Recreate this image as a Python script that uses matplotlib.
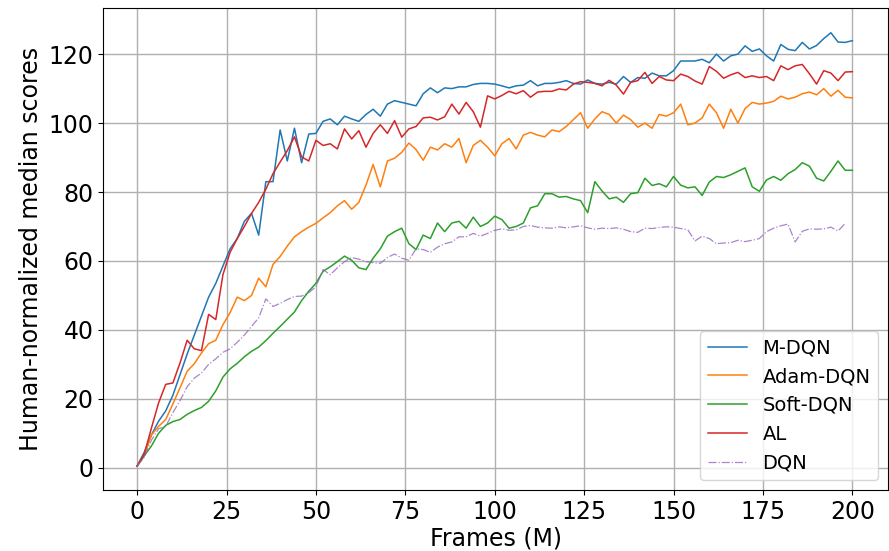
import matplotlib
matplotlib.use("Agg")
import matplotlib.pyplot as plt

# frames (M), one reading every 2M
frames = list(range(0, 201, 2))

m_dqn = [0.5, 4.5, 9.5, 13.5, 16.5, 21, 27, 33, 38.5, 44,
         49.5, 53.5, 58.5, 63.5, 66.5, 71.5, 73.8, 67.5, 83, 83,
         98, 89, 98.5, 88.5, 96.8, 97, 100.5, 101.2, 99.5, 102,
         101.2, 100.5, 102.5, 104, 102, 105.5, 106.5, 106, 105.5, 105,
         108.5, 110.2, 108.8, 110.2, 110, 110.5, 110.5, 111.2, 111.5, 111.5,
         111.3, 110.8, 110.2, 110.8, 111, 112.3, 110.8, 111.5, 111.5, 111.8,
         112.3, 111.5, 111.3, 112.5, 111.5, 111.3, 111.8, 111.3, 113.5, 111.8,
         113.2, 113, 114.5, 113.7, 113.7, 115.2, 118, 118, 118, 118.5,
         117.5, 120, 118, 119.5, 120, 122.4, 120.8, 121.5, 119.5, 118,
         122.8, 121.4, 121, 123.4, 121.5, 122.5, 124.5, 126.2, 123.5, 123.4,
         123.9]

adam_dqn = [0.5, 3.5, 9.5, 12, 14, 18.5, 23.2, 28, 30.2, 33.3,
            36, 37, 41.5, 45, 49.5, 48.5, 50, 55, 52.5, 59,
            61.3, 64.3, 67, 68.5, 69.8, 70.9, 72.5, 74, 76, 77.5,
            75, 77, 82, 88, 81.5, 89, 89.8, 91.5, 94.2, 92.3,
            89.2, 93, 92.2, 94, 93, 95.5, 88.5, 93.5, 95, 93,
            90.5, 94, 95.5, 92.5, 96.5, 97.3, 96.5, 96, 98, 97.5,
            99, 101, 103, 98.5, 101.2, 103.3, 102.5, 100, 102.3, 101,
            98.8, 100, 98.5, 102.5, 102, 103, 105.5, 99.5, 100, 101.5,
            105.5, 103, 98.5, 104, 100, 104.2, 106, 105.5, 105.8, 106.3,
            107.8, 107, 107.5, 108.5, 109, 108.2, 110, 107.8, 109.5, 107.5,
            107.3]

soft_dqn = [0.5, 3.5, 6.3, 10, 12.3, 13.4, 14, 15.5, 16.6, 17.5,
            19.3, 22.3, 26.3, 28.7, 30.3, 32.2, 33.8, 35, 36.9, 39,
            41, 43.1, 45.2, 48.5, 51.2, 53.5, 57, 58.3, 59.8, 61.4,
            60.2, 58, 57.5, 60.8, 63.5, 67.2, 68.5, 69.5, 65, 63.3,
            67.5, 66.5, 71, 68.5, 71, 71.5, 69.5, 72.7, 70, 71,
            73, 72, 69.5, 70, 71, 75.4, 76, 79.5, 79.5, 78.5,
            78.7, 78, 77.5, 74, 83, 80.3, 78, 78.5, 77, 79.5,
            79.8, 84, 81.9, 82.4, 81.5, 84.5, 82, 81.2, 81.5, 79,
            82.9, 84.5, 84.2, 85, 86, 87, 81.5, 80.2, 83.5, 84.5,
            83.4, 85.3, 86.5, 88.5, 87.5, 84, 83.2, 86, 89, 86.3,
            86.3]

al = [0.5, 4, 11.5, 18.8, 24.2, 24.6, 30.4, 37, 34.5, 34,
      44.5, 43, 56, 62.5, 66.5, 70, 73.8, 77, 80.8, 85.3,
      88.7, 92, 96, 90.2, 89, 95, 93.5, 94, 92.5, 98.3,
      95.4, 97.8, 93, 97, 99.5, 97, 100.7, 95.9, 98.3, 99,
      101.5, 101.7, 100.9, 101.8, 105.5, 102.6, 106, 103.3, 98.8, 107.9,
      107, 108, 109.2, 108.5, 109.4, 107.5, 109, 109.2, 109.2, 109.9,
      109.6, 111.3, 112, 111.8, 111.5, 110.8, 112.4, 111, 108.4, 111.8,
      112.3, 114.7, 111.5, 113.5, 112.5, 112.3, 114.2, 113.5, 112.2, 111.3,
      116.4, 115, 113, 114, 114.7, 113.2, 113.7, 113.2, 113.5, 112.3,
      116.6, 115.5, 116.6, 117, 114.3, 111.3, 115.2, 114.5, 112.3, 114.8,
      114.9]

# DQN stops one reading early (198M)
dqn = [0.5, 3, 8, 11.3, 12, 16, 19.5, 23.5, 26, 27.5,
       30, 31.6, 33.5, 34.5, 36.4, 38.5, 41, 43.5, 49, 46.8,
       47.7, 48.8, 49.7, 49.8, 50.8, 52.5, 57.5, 56, 58, 59.8,
       61, 60.5, 59.8, 59.5, 59.3, 61, 62, 60.8, 60.2, 63.5,
       63.3, 62.5, 64, 65, 65.5, 67, 67, 68, 67.2, 68,
       68.9, 69.3, 68.9, 69, 70, 70.3, 69.8, 69.6, 69.5, 69.9,
       69.6, 69.9, 70.2, 69.6, 69.2, 69.5, 69.4, 69.6, 69.2, 68.5,
       68.3, 69.5, 69.4, 69.7, 69.9, 69.8, 69.4, 69, 65.8, 67.2,
       66.5, 65, 65.2, 65.3, 66, 65.6, 66, 66.5, 68.5, 69.5,
       70.2, 70.7, 65.5, 68.6, 69.3, 69.2, 69.3, 69.8, 68.7, 70.9]

fig = plt.figure(figsize=(8.89, 5.51), dpi=100)
ax = fig.add_axes([0.116, 0.111, 0.883, 0.874])

lw = 1.1
ax.plot(frames, m_dqn, color='tab:blue', lw=lw, label='M-DQN')
ax.plot(frames, adam_dqn, color='tab:orange', lw=lw, label='Adam-DQN')
ax.plot(frames, soft_dqn, color='tab:green', lw=lw, label='Soft-DQN')
ax.plot(frames, al, color='tab:red', lw=lw, label='AL')
ax.plot(frames[:len(dqn)], dqn, color='tab:purple', lw=0.9, ls='-.', alpha=0.8, label='DQN')

ax.set_xlim(-9.5, 210)
ax.set_ylim(-6.4, 133.3)
ax.set_xticks([0, 25, 50, 75, 100, 125, 150, 175, 200])
ax.set_yticks([0, 20, 40, 60, 80, 100, 120])
ax.tick_params(labelsize=17)
ax.set_xlabel('Frames (M)', fontsize=17, labelpad=2)
ax.set_ylabel('Human-normalized median scores', fontsize=17)
ax.grid(True, lw=1.0)
ax.legend(loc='lower right', fontsize=14)

fig.savefig('out.png', dpi=100)
